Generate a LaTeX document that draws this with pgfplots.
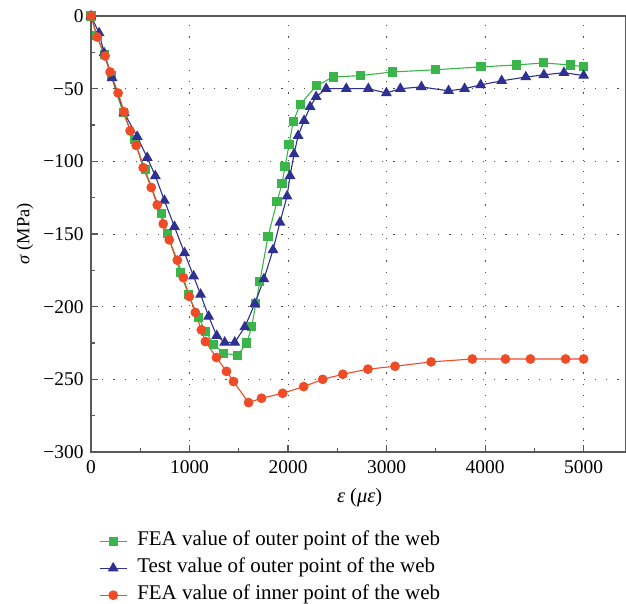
\documentclass[border=0pt]{standalone}
\usepackage{fontspec}
\setmainfont{Liberation Serif}
\usepackage{pgfplots}
\pgfplotsset{compat=1.18}
\definecolor{cgreen}{HTML}{3AB54A}
\definecolor{cblue}{HTML}{2E3192}
\definecolor{cred}{HTML}{EF4B26}
\begin{document}
\begin{tikzpicture}
\path[use as bounding box] (-91bp,-152bp) rectangle (535bp,452bp);
\begin{axis}[
  at={(0,0)}, anchor=south west,
  scale only axis, width=535bp, height=436bp,
  xmin=0, xmax=5430, ymin=-300, ymax=0,
  xtick={0,1000,2000,3000,4000,5000},
  xticklabels={0,1000,2000,3000,4000,5000},
  ytick={-300,-250,-200,-150,-100,-50,0},
  yticklabels={−300,−250,−200,−150,−100,−50,0},
  minor x tick num=1, minor y tick num=1,
  tick pos=left, tick align=inside,
  major tick length=7bp, minor tick length=4bp,
  grid=major,
  major grid style={dash pattern=on 1.2bp off 10bp, gray!60!black, line width=0.9bp},
  axis line style={line width=1.4bp, gray!70!black},
  every tick/.style={gray!70!black, line width=1.2bp},
  ticklabel style={font=\fontsize{19.5}{21}\selectfont},
  xticklabel style={yshift=-5bp},
  yticklabel style={xshift=-4bp},
  /pgf/number format/assume math mode=true,
  xlabel={\textit{ε} (\textit{με})},
  ylabel={\textit{σ} (MPa)},
  xlabel style={at={(axis description cs:0.502,-0.104)}, anchor=center, font=\fontsize{20.5}{22}\selectfont},
  ylabel style={at={(axis description cs:-0.1234,0.5)}, anchor=center, font=\fontsize{18.5}{20}\selectfont},
  legend cell align=left,
  legend image code/.code={\draw[mark repeat=2,mark phase=2] plot coordinates {(0bp,0bp)(13.5bp,0bp)(27bp,0bp)};},
  legend style={at={(axis description cs:0,0)}, anchor=north west, xshift=8bp, yshift=-77.5bp,
    draw=none, fill=none, inner sep=0pt, row sep=4bp,
    font=\fontsize{21}{23}\selectfont,
    /tikz/every odd column/.append style={column sep=6bp},
    nodes={inner xsep=4bp, inner ysep=2bp, text height=14bp, text depth=5bp}},
]
\addplot[color=cgreen, line width=1.1bp, mark=square*, mark size=4bp, mark options={solid}] coordinates {
(0,0) (61,-13.7) (133,-26.8) (204,-41) (326,-66.6) (438,-85) (550,-105.8) (713,-136) (774,-149.7)
(907,-176.5) (988,-191.6) (1091,-207.4) (1163,-217) (1245,-226) (1347,-232) (1489,-233.5)
(1581,-225) (1632,-213.6) (1673,-197.8) (1714,-182.7) (1796,-151.8) (1888,-127.7) (1939,-115.4)
(1969,-103.7) (2010,-88.6) (2051,-72.8) (2122,-61) (2285,-48) (2459,-42) (2734,-41) (3060,-38.5)
(3499,-37) (3958,-35) (4315,-33.7) (4590,-32.3) (4866,-33.7) (5000,-35)
};
\addlegendentry{FEA value of outer point of the web}
\addplot[color=cblue, line width=1.1bp, mark=triangle*, mark size=5.2bp, mark options={solid}] coordinates {
(0,0) (82,-11.7) (133,-25.4) (214,-42.6) (337,-66.6) (469,-83) (571,-97.5) (653,-110) (745,-127)
(847,-145) (949,-163) (1041,-179) (1112,-191.6) (1194,-206.7) (1276,-220) (1357,-224.6) (1459,-224.6)
(1561,-214) (1663,-198) (1755,-181) (1847,-161) (1918,-142) (1990,-124) (2020,-110) (2061,-95)
(2102,-82.4) (2163,-72) (2224,-62.5) (2285,-55.6) (2387,-50) (2591,-50) (2815,-50) (2998,-53)
(3140,-50) (3354,-48.8) (3629,-51.5) (3792,-50) (3955,-47.4) (4168,-44.6) (4413,-42) (4597,-40.5)
(4800,-39) (5000,-41)
};
\addlegendentry{Test value of outer point of the web}
\addplot[color=cred, line width=1.1bp, mark=*, mark size=4.3bp, mark options={solid}] coordinates {
(0,0) (61,-14.4) (143,-27.5) (194,-38.5) (275,-53) (336,-66) (397,-79) (458,-89) (530,-104.4)
(611,-118) (672,-130) (733,-143) (794,-154) (876,-168) (937,-180) (998,-193) (1059,-204)
(1120,-216) (1161,-224) (1273,-235) (1375,-244.5) (1446,-251.5) (1599,-266) (1731,-263)
(1945,-259.6) (2159,-255) (2352,-250) (2556,-246.5) (2811,-243) (3086,-241) (3452,-238)
(3870,-236) (4206,-236) (4460,-236) (4817,-236) (5000,-236)
};
\addlegendentry{FEA value of inner point of the web}
\end{axis}
\end{tikzpicture}
\end{document}
